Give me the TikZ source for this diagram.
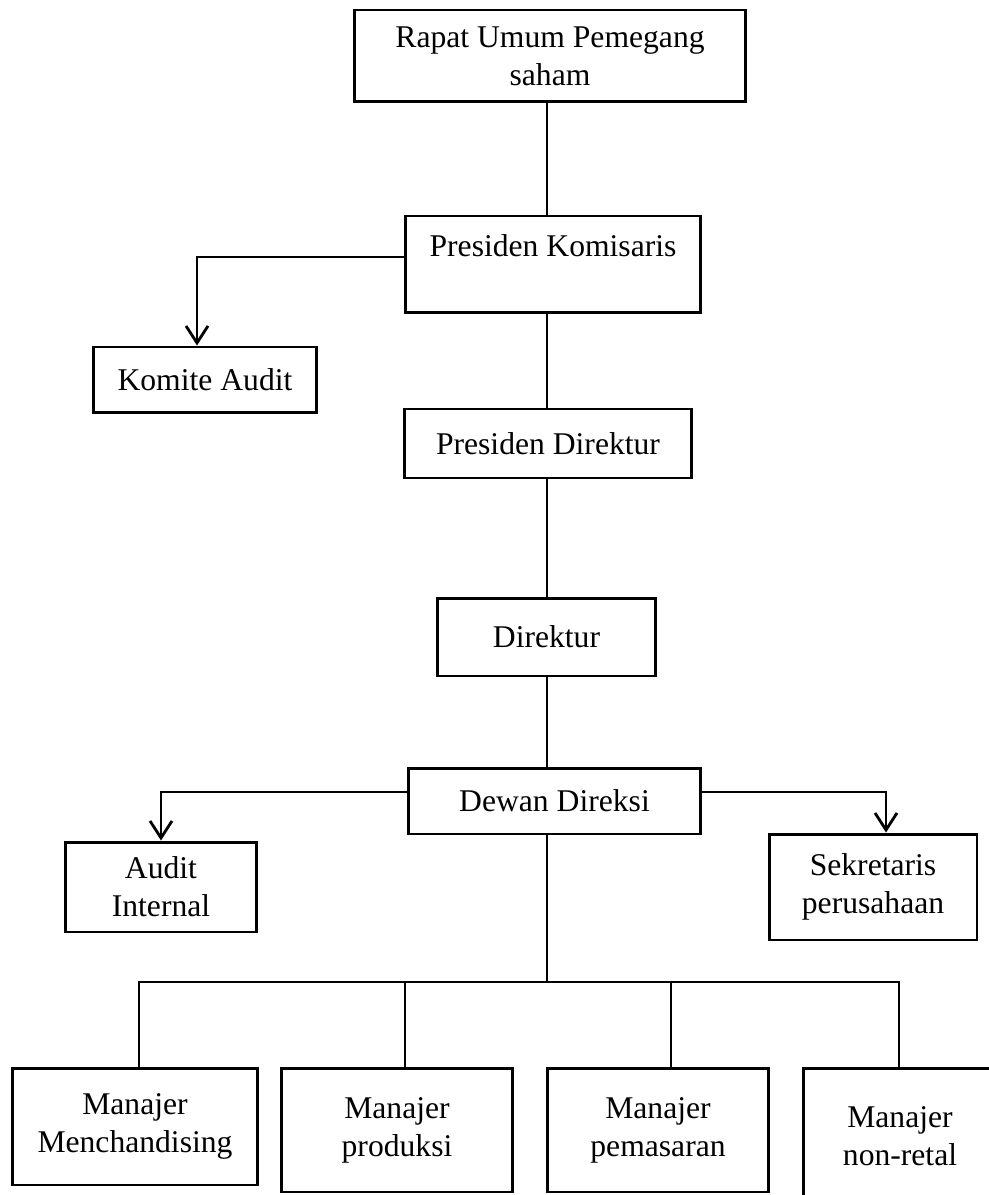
\documentclass[tikz,border=0pt]{standalone}
\usepackage{fontspec}
\setmainfont{Liberation Serif}
\usetikzlibrary{arrows.meta}

\tikzset{
    box/.style={draw, line width=1.7pt, align=center, inner sep=2pt,
                font=\fontsize{18}{21.5}\selectfont},
    tree/.style={line width=0.7pt},
    branch/.style={line width=1.6pt,
                   -{Straight Barb[length=0.34cm,width=0.44cm,line width=1.6pt]}},
}

\begin{document}
\begin{tikzpicture}[x=0.02cm,y=-0.02cm]
        \useasboundingbox[fill=white] (0,0) rectangle (989,1195);

        % main column
        \node[box, minimum width=7.84cm, minimum height=1.84cm] (rups) at (550,56) {Rapat Umum Pemegang\\saham};
        \node[box, minimum width=5.92cm, minimum height=1.94cm] (komisaris) at (553,264.5) {Presiden Komisaris\\\mbox{}};
        \node[box, minimum width=4.48cm, minimum height=1.32cm] (komite) at (205,380) {Komite Audit};
        \node[box, minimum width=5.76cm, minimum height=1.38cm] (presdir) at (548,443.5) {Presiden Direktur};
        \node[box, minimum width=4.38cm, minimum height=1.56cm] (direktur) at (546.5,637) {Direktur};
        \node[box, minimum width=5.86cm, minimum height=1.32cm] (dewan) at (554.5,801) {Dewan Direksi};
        \node[box, minimum width=3.84cm, minimum height=1.80cm] (auditint) at (161,887) {Audit\\Internal};
        \node[box, minimum width=4.16cm, minimum height=2.12cm] (sekretaris) at (873,887) {Sekretaris\\perusahaan};

        % managers
        \node[box, minimum width=4.92cm, minimum height=2.34cm] (merch) at (135,1126.5) {Manajer\\Menchandising};
        \node[box, minimum width=4.64cm, minimum height=2.48cm] (produksi) at (397,1130) {Manajer\\produksi};
        \node[box, minimum width=4.44cm, minimum height=2.48cm] (pemasaran) at (658,1130) {Manajer\\pemasaran};
        \node[box, minimum width=3.88cm, minimum height=2.74cm] (nonretal) at (900,1136.5) {Manajer\\non-retal};

        \coordinate (spine) at (547,0);
        \coordinate (bus) at (547,982);

        \draw[tree] (rups.south -| spine) -- (komisaris.north -| spine);
        \draw[tree] (komisaris.south -| spine) -- (presdir.north -| spine);
        \draw[tree] (presdir.south -| spine) -- (direktur.north -| spine);
        \draw[tree] (direktur.south -| spine) -- (dewan.north -| spine);
        \draw[tree] (dewan.south -| spine) -- (bus);

        \draw[branch] ([yshift=0.15cm]komisaris.west) -| ([xshift=-0.16cm]komite.north);
        \draw[branch] ([yshift=0.18cm]dewan.west) -| (auditint.north);
        \draw[branch] ([yshift=0.18cm]dewan.east) -| ([xshift=0.26cm]sekretaris.north);

        \draw[tree] ([xshift=0.08cm]merch.north) |- (bus) -| ([xshift=-0.02cm]nonretal.north);
        \draw[tree] ([xshift=0.16cm]produksi.north) -- ([xshift=0.16cm]produksi.north |- bus);
        \draw[tree] ([xshift=0.26cm]pemasaran.north) -- ([xshift=0.26cm]pemasaran.north |- bus);
\end{tikzpicture}
\end{document}
